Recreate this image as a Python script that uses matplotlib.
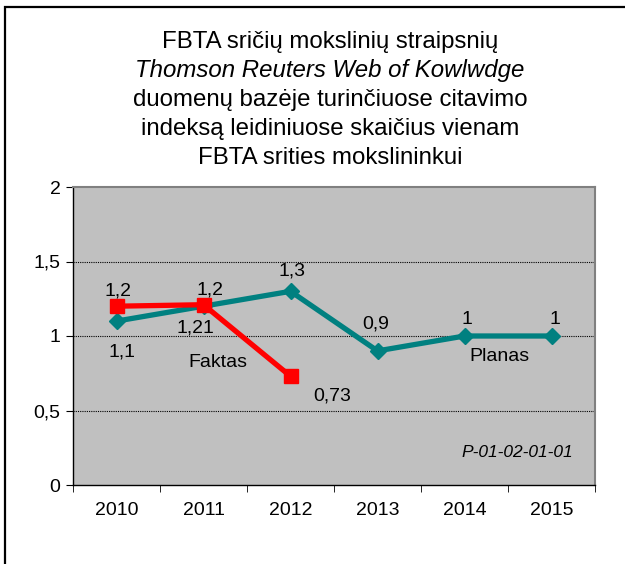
import matplotlib
matplotlib.use("Agg")
import matplotlib.pyplot as plt
from matplotlib.patches import Rectangle
from matplotlib.ticker import FixedLocator

plt.rcParams['font.family'] = ['Liberation Sans', 'DejaVu Sans']

years = ['2010', '2011', '2012', '2013', '2014', '2015']
planas = [1.1, 1.2, 1.3, 0.9, 1.0, 1.0]
planas_labels = ['1,1', '1,2', '1,3', '0,9', '1', '1']
faktas = [1.2, 1.21, 0.73]
faktas_labels = ['1,2', '1,21', '0,73']
yticks = [0, 0.5, 1, 1.5, 2]
ytick_labels = ['0', '0,5', '1', '1,5', '2']
title_lines = ['FBTA sričių mokslinių straipsnių',
               'Thomson Reuters Web of Kowlwdge',
               'duomenų bazėje turinčiuose citavimo',
               'indeksą leidiniuose skaičius vienam',
               'FBTA srities mokslininkui']

teal = '#008080'
red = '#FF0000'
FS = 14

fig = plt.figure(figsize=(6.25, 5.64), dpi=100)
fig.patches.append(Rectangle((5/625, -0.2), 1.2, 1.2 - 7/564, transform=fig.transFigure,
                             fill=False, edgecolor='black', linewidth=1.6))

ax = fig.add_axes([73/625, 1 - 485/564, (595 - 73)/625, (485 - 187)/564])
ax.set_facecolor('#C0C0C0')
x = list(range(len(years)))
ax.set_xlim(-0.5, len(years) - 0.5)
ax.set_ylim(0, 2)

for yv in [0.5, 1.0, 1.5]:
    ax.axhline(yv, color='black', linestyle=(0, (1, 1)), linewidth=0.8, zorder=1)

ax.plot(x, planas, color=teal, linewidth=3.8, marker='D', markersize=8, zorder=3)
ax.plot(x[:len(faktas)], faktas, color=red, linewidth=3.8, marker='s', markersize=10, zorder=4)

planas_off = [(6, -31), (7, 16), (1, 20), (-2, 27), (2, 16), (3, 16)]
for xi, v, lab, off in zip(x, planas, planas_labels, planas_off):
    ax.annotate(lab, (xi, v), xytext=off, textcoords='offset pixels', ha='center', va='center', fontsize=FS, zorder=5)
faktas_off = [(1, 15), (-8, -23), (42, -20)]
for xi, v, lab, off in zip(x, faktas, faktas_labels, faktas_off):
    ax.annotate(lab, (xi, v), xytext=off, textcoords='offset pixels', ha='center', va='center', fontsize=FS, zorder=5)

ax.text(1.16, 0.82, 'Faktas', ha='center', va='center', fontsize=FS)
ax.text(4.40, 0.86, 'Planas', ha='center', va='center', fontsize=FS)
ax.text(0.851, 0.11, 'P-01-02-01-01', transform=ax.transAxes, ha='center', va='center',
        fontsize=12.5, style='italic')

ax.set_xticks(x)
ax.set_xticklabels(years, fontsize=14)
ax.tick_params(axis='x', which='major', length=0, pad=12)
ax.xaxis.set_minor_locator(FixedLocator([i - 0.5 for i in range(len(years) + 1)]))
ax.tick_params(axis='x', which='minor', length=5, direction='out', color='black')
ax.set_yticks(yticks)
ax.set_yticklabels(ytick_labels, fontsize=14)
ax.tick_params(axis='y', length=5, direction='out', pad=4)

for s in ['top', 'right']:
    ax.spines[s].set_color('#808080')
    ax.spines[s].set_linewidth(1.5)
for s in ['left', 'bottom']:
    ax.spines[s].set_color('black')
    ax.spines[s].set_linewidth(1.0)

for i, line in enumerate(title_lines):
    fig.text(330/625, 1 - (42 + 29 * i)/564, line, ha='center', va='center', fontsize=17.3,
             style='italic' if i == 1 else 'normal')

fig.savefig('out.png', dpi=100)
